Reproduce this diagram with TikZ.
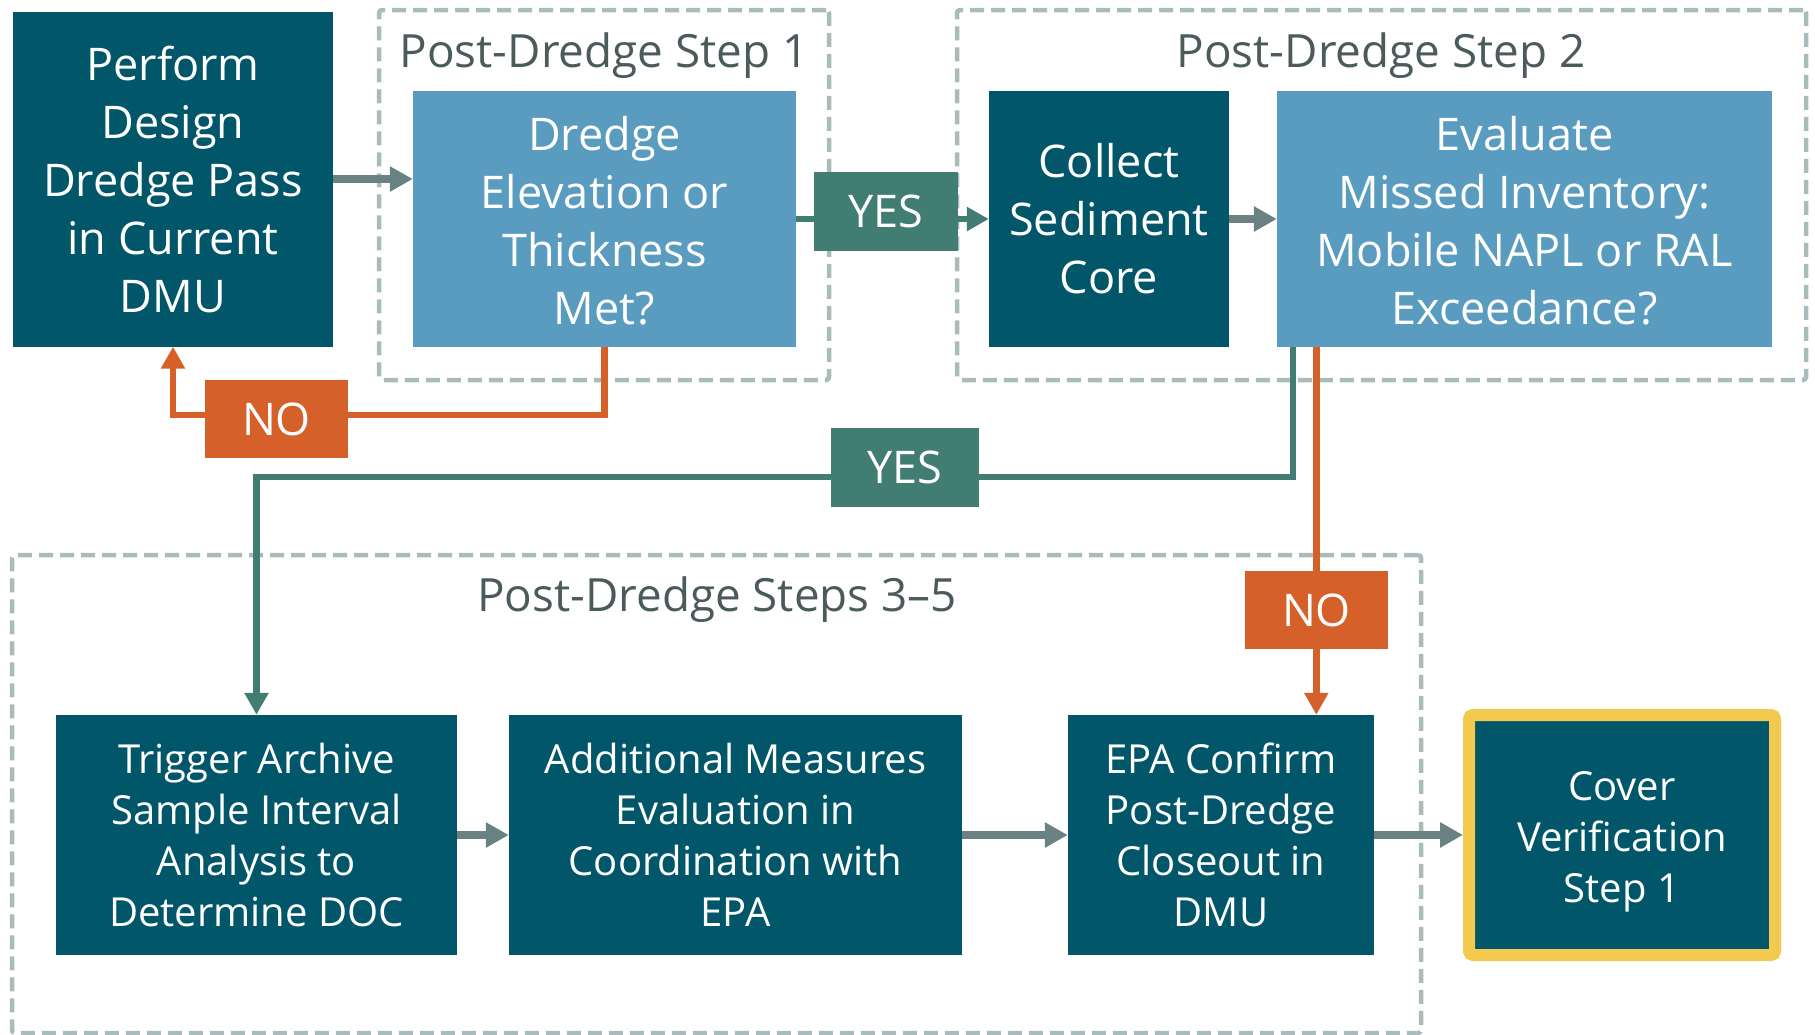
\documentclass[tikz,border=0pt]{standalone}
\usepackage{fontspec}
\setmainfont{Open Sans}
\usetikzlibrary{arrows.meta,calc}
\definecolor{dteal}{HTML}{02566A}
\definecolor{lblue}{HTML}{5A9BC0}
\definecolor{yesgreen}{HTML}{417D73}
\definecolor{noorange}{HTML}{D6602A}
\definecolor{arrowgray}{HTML}{6A8283}
\definecolor{dashgray}{HTML}{A9BCBC}
\definecolor{titlegray}{HTML}{4B5A5B}
\definecolor{coveryellow}{HTML}{F2CA50}
\pgfdeclarelayer{back}
\pgfdeclarelayer{bg}
\pgfsetlayers{back,bg,main}
\begin{document}
\begin{tikzpicture}[x=1pt,y=-1pt,
  box/.style={rectangle, inner sep=0pt, align=center, text=white, font=\fontsize{45}{58}\selectfont},
  dbox/.style={box, fill=dteal},
  lbox/.style={box, fill=lblue},
  bbox/.style={box, fill=dteal, font=\fontsize{40}{51}\selectfont, minimum height=240pt},
  yeslab/.style={rectangle, fill=yesgreen, text=white, inner sep=0pt, font=\fontsize{45}{54}\selectfont, minimum width=144pt, minimum height=79pt},
  nolab/.style={rectangle, fill=noorange, text=white, inner sep=0pt, font=\fontsize{45}{54}\selectfont, minimum width=143pt, minimum height=78pt},
  frame/.style={draw=dashgray, line width=4.5pt, dash pattern=on 14pt off 7pt, rounded corners=3pt, inner sep=0pt},
  gtitle/.style={text=titlegray, font=\fontsize{45.8}{55}\selectfont, anchor=base, inner sep=0pt},
  garrow/.style={draw=arrowgray, line width=8pt, -{Triangle[length=23pt,width=24pt]}},
  yarrow/.style={draw=yesgreen, line width=6.5pt, -{Triangle[length=22pt,width=23pt]}},
  oarrow/.style={draw=noorange, line width=6.5pt, -{Triangle[length=22pt,width=23pt]}}
]
\useasboundingbox (0,0) rectangle (1815,1034);

% group frames
\begin{pgfonlayer}{back}
\node[frame, minimum width=450pt, minimum height=370pt] (g1) at (604,195) {};
\node[frame, minimum width=849pt, minimum height=370pt] (g2) at (1381.5,195) {};
\node[frame, minimum width=1409pt, minimum height=478pt] (g3) at (716.5,794) {};
\end{pgfonlayer}

\node[gtitle] (t1) at (604,67) {Post-Dredge Step 1};
\node[gtitle] (t2) at (1381,67) {Post-Dredge Step 2};
\node[gtitle] (t3) at (717,611) {Post-Dredge Steps 3\textendash5};

% top row
\node[dbox, minimum width=320pt, minimum height=335pt] (perform) at (173,179)
  {Perform\\Design\\Dredge Pass\\in Current\\DMU};
\node[lbox, minimum width=383pt, minimum height=256pt] (dredge) at (604.5,219)
  {\rule{0pt}{38pt}Dredge\\Elevation or\\Thickness\\Met?};
\node[dbox, minimum width=240pt, minimum height=256pt] (collect) at (1109,219)
  {Collect\\Sediment\\Core};
\node[lbox, minimum width=495pt, minimum height=256pt] (evaluate) at (1524.5,219)
  {\rule{0pt}{38pt}Evaluate\\Missed Inventory:\\Mobile NAPL or RAL\\Exceedance?};

% bottom row
\node[bbox, minimum width=401pt] (trigger) at (256.5,835)
  {Trigger Archive\\Sample Interval\\Analysis to\\Determine DOC};
\node[bbox, minimum width=453pt] (additional) at (735.5,835)
  {Additional Measures\\Evaluation in\\Coordination with\\EPA};
\node[bbox, minimum width=306pt] (epa) at (1221,835)
  {EPA Confirm\\Post-Dredge\\Closeout in\\DMU};
\node[bbox, minimum width=306pt, draw=coveryellow, line width=12pt, rounded corners=4pt] (cover) at (1622,835)
  {\rule{0pt}{43pt}Cover\\Verification\\Step 1};

% decision labels
\node[yeslab] (yes1) at (885.5,211) {YES};
\node[yeslab, minimum width=148pt] (yes2) at (905,467) {YES};
\node[nolab] (no1) at (276.5,419) {NO};
\node[nolab] (no2) at (1316.5,610) {NO};

\coordinate (ysplit) at ($(evaluate.south west)+(16,0)$);
\coordinate (nsplit) at ($(evaluate.south west)+(39.5,0)$);
\coordinate (ylevel) at (0,477);
\coordinate (nlevel) at (0,415);

% connectors
\begin{pgfonlayer}{bg}
\draw[garrow] (perform.east) -- (perform.east -| dredge.west);
\draw[yarrow] (dredge.east) -- (collect.west);
\draw[garrow] (collect.east) -- (evaluate.west);
\draw[oarrow] (dredge.south) -- (dredge.south |- nlevel) -| (perform.south);
\draw[yarrow] (ysplit) -- (ysplit |- ylevel) -| (trigger.north);
\draw[oarrow] (nsplit) -- (nsplit |- epa.north);
\draw[garrow] (trigger.east) -- (additional.west);
\draw[garrow] (additional.east) -- (epa.west);
\draw[garrow] (epa.east) -- (cover.west);
\end{pgfonlayer}
\end{tikzpicture}
\end{document}
